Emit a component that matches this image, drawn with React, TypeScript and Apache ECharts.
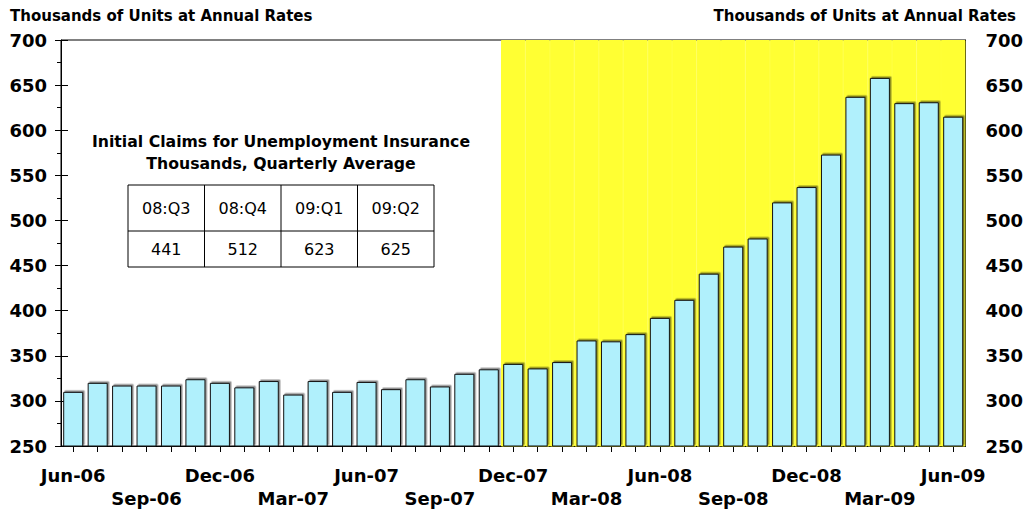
import React, { useEffect, useRef } from "react";
import * as echarts from "echarts";

const months: string[] = [
  "Jun-06", "Jul-06", "Aug-06", "Sep-06", "Oct-06", "Nov-06", "Dec-06",
  "Jan-07", "Feb-07", "Mar-07", "Apr-07", "May-07", "Jun-07", "Jul-07",
  "Aug-07", "Sep-07", "Oct-07", "Nov-07", "Dec-07", "Jan-08", "Feb-08",
  "Mar-08", "Apr-08", "May-08", "Jun-08", "Jul-08", "Aug-08", "Sep-08",
  "Oct-08", "Nov-08", "Dec-08", "Jan-09", "Feb-09", "Mar-09", "Apr-09",
  "May-09", "Jun-09",
];

const claims: number[] = [
  310, 320, 317, 317, 317, 324, 320,
  315, 322, 307, 322, 310, 321, 313,
  324, 316, 330, 335, 341, 336, 343,
  367, 366, 374, 392, 412, 441, 471,
  480, 520, 537, 573, 637, 658, 630,
  631, 615,
];

// 1 = recession month (shaded)
const recession: number[] = [
  0, 0, 0, 0, 0, 0, 0,
  0, 0, 0, 0, 0, 0, 0,
  0, 0, 0, 0, 1, 1, 1,
  1, 1, 1, 1, 1, 1, 1,
  1, 1, 1, 1, 1, 1, 1,
  1, 1,
];

const yMin = 250;
const yMax = 700;
const yStep = 50;

const unitTitle = "Thousands of Units at Annual Rates";
const tableTitle1 = "Initial Claims for Unemployment Insurance";
const tableTitle2 = "Thousands, Quarterly Average";
const tableHeaders: string[] = ["08:Q3", "08:Q4", "09:Q1", "09:Q2"];
const tableValues: string[] = ["441", "512", "623", "625"];

const FONT = "DejaVu Sans";

export default function App() {
  const ref = useRef<HTMLDivElement>(null);

  useEffect(() => {
    if (!ref.current) return;
    const chart = echarts.init(ref.current, undefined, { renderer: "svg" });

    const tLeft = 128;
    const tTop = 185;
    const colW = 76.5;
    const rowH1 = 46;
    const rowH2 = 36;
    const tW = colW * tableHeaders.length;
    const tableGraphics: any[] = [];
    tableGraphics.push({
      type: "rect",
      shape: { x: tLeft, y: tTop, width: tW, height: rowH1 + rowH2 },
      style: { fill: "#fff", stroke: "#000", lineWidth: 1 },
    });
    tableGraphics.push({
      type: "line",
      shape: { x1: tLeft, y1: tTop + rowH1, x2: tLeft + tW, y2: tTop + rowH1 },
      style: { stroke: "#000", lineWidth: 1 },
    });
    for (let i = 1; i < tableHeaders.length; i++) {
      tableGraphics.push({
        type: "line",
        shape: { x1: tLeft + colW * i, y1: tTop, x2: tLeft + colW * i, y2: tTop + rowH1 + rowH2 },
        style: { stroke: "#000", lineWidth: 1 },
      });
    }
    tableHeaders.forEach((h, i) => {
      tableGraphics.push({
        type: "text",
        x: tLeft + colW * i + colW / 2,
        y: tTop + rowH1 / 2,
        style: { text: h, font: `16px '${FONT}'`, fill: "#000", align: "center", verticalAlign: "middle" },
      });
      tableGraphics.push({
        type: "text",
        x: tLeft + colW * i + colW / 2,
        y: tTop + rowH1 + rowH2 / 2,
        style: { text: tableValues[i], font: `16px '${FONT}'`, fill: "#000", align: "center", verticalAlign: "middle" },
      });
    });

    const option: any = {
      animation: false,
      backgroundColor: "#fff",
      grid: {
        left: 61,
        right: 59,
        top: 40,
        bottom: 66,
        show: true,
        borderColor: "#000",
        borderWidth: 1,
        backgroundColor: "transparent",
      },
      xAxis: [
        {
          type: "category",
          data: months,
          position: "bottom",
          boundaryGap: true,
          axisLine: { show: true, lineStyle: { color: "#000", width: 1 } },
          axisTick: { show: true, alignWithLabel: true, interval: 0, length: 6, inside: false, lineStyle: { color: "#000" } },
          axisLabel: {
            interval: 2,
            margin: 18,
            lineHeight: 23,
            color: "#000",
            fontFamily: FONT,
            fontWeight: "bold",
            fontSize: 18,
            formatter: (value: string, index: number) =>
              Math.floor(index / 3) % 2 === 1 ? "\n" + value : value,
          },
          splitLine: { show: false },
        },
        {
          type: "category",
          data: months,
          position: "bottom",
          offset: 0,
          boundaryGap: true,
          axisLine: { show: false },
          axisTick: { show: true, alignWithLabel: true, interval: 0, length: 6, inside: true, lineStyle: { color: "#000" } },
          axisLabel: { show: false },
          splitLine: { show: false },
        },
      ],
      yAxis: [
        {
          type: "value",
          position: "left",
          min: yMin,
          max: yMax,
          interval: yStep,
          axisLine: { show: true, lineStyle: { color: "#000" } },
          axisTick: { show: true, length: 6, inside: false, lineStyle: { color: "#000" } },
          minorTick: { show: true, splitNumber: 2, length: 4, lineStyle: { color: "#000" } },
          axisLabel: {
            margin: 14,
            color: "#000",
            fontFamily: FONT,
            fontWeight: "bold",
            fontSize: 18,
          },
          splitLine: { show: false },
        },
        {
          type: "value",
          position: "left",
          offset: 0,
          min: yMin,
          max: yMax,
          interval: yStep,
          axisLine: { show: false },
          axisTick: { show: true, length: 7, inside: true, lineStyle: { color: "#000" } },
          axisLabel: { show: false },
          splitLine: { show: false },
        },
        {
          type: "value",
          position: "right",
          min: yMin,
          max: yMax,
          interval: yStep,
          axisLine: { show: true, lineStyle: { color: "#000" } },
          axisTick: { show: false },
          axisLabel: {
            margin: 20,
            color: "#000",
            fontFamily: FONT,
            fontWeight: "bold",
            fontSize: 18,
          },
          splitLine: { show: false },
        },
      ],
      series: [
        {
          name: "Recession",
          type: "bar",
          xAxisIndex: 1,
          yAxisIndex: 0,
          barCategoryGap: "0%",
          barWidth: "100%",
          data: recession.map((r) => (r ? yMax : null)),
          itemStyle: { color: "#FFFF33", borderColor: "#FFFF33", borderWidth: 1 },
          silent: true,
          z: 1,
        },
        {
          name: "Initial Claims",
          type: "bar",
          xAxisIndex: 0,
          yAxisIndex: 0,
          barCategoryGap: "18%",
          data: claims,
          itemStyle: {
            color: "#B0F0FC",
            borderColor: "#111",
            borderWidth: 1,
            shadowColor: "rgba(0,0,0,0.45)",
            shadowBlur: 0,
            shadowOffsetX: 1.5,
            shadowOffsetY: -1.5,
          },
          z: 3,
        },
      ],
      graphic: [
        {
          type: "text",
          left: 10,
          top: 8,
          style: { text: unitTitle, font: `bold 15px '${FONT}'`, fill: "#000" },
        },
        {
          type: "text",
          right: 10,
          top: 8,
          style: { text: unitTitle, font: `bold 15px '${FONT}'`, fill: "#000" },
        },
        {
          type: "text",
          x: 281,
          y: 141,
          style: { text: tableTitle1, font: `bold 15.7px '${FONT}'`, fill: "#000", align: "center", verticalAlign: "middle" },
        },
        {
          type: "text",
          x: 281,
          y: 163,
          style: { text: tableTitle2, font: `bold 15.7px '${FONT}'`, fill: "#000", align: "center", verticalAlign: "middle" },
        },
        ...tableGraphics,
      ],
    };

    chart.setOption(option);
    return () => chart.dispose();
  }, []);

  return (
    <div
      ref={ref}
      style={{ position: "absolute", left: 0, top: 0, width: 1026, height: 512 }}
    />
  );
}
